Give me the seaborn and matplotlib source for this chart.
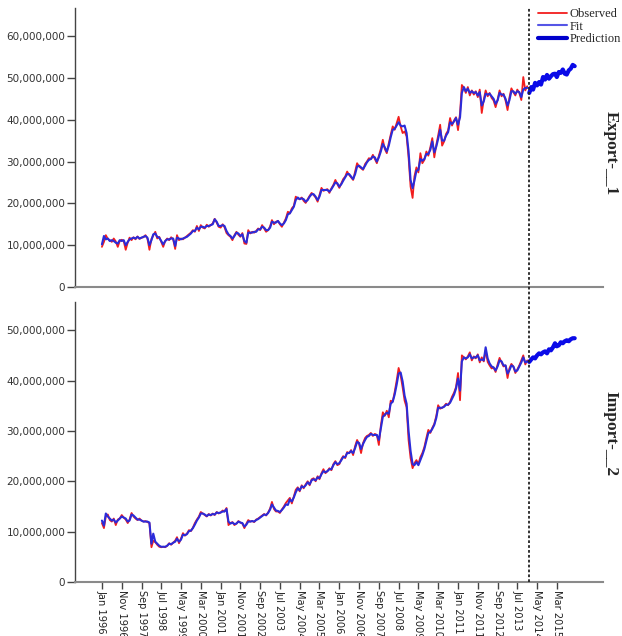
import numpy as np
import pandas as pd
import matplotlib
matplotlib.use("Agg")
import matplotlib.pyplot as plt
import matplotlib.ticker as mticker
import matplotlib.dates as mdates
from matplotlib.lines import Line2D
import seaborn as sns

# Monthly series, values in millions
months = pd.date_range("1996-01-01", periods=216, freq="MS")
forecast_months = pd.date_range("2014-01-01", periods=24, freq="MS")
tick_months = pd.date_range("1996-01-01", "2015-03-01", freq="10MS")

export_observed = [
    9.6, 10.8, 12.4, 11.5, 11.2, 10.8, 11.6, 10.9, 9.6, 11.0, 11.3, 11.0,
    8.9, 10.6, 11.8, 11.2, 11.9, 11.4, 12.1, 11.5, 11.8, 11.9, 12.4, 11.6,
    8.9, 11.5, 12.3, 13.2, 11.6, 12.0, 10.8, 9.6, 11.0, 11.6, 11.2, 11.9,
    11.4, 9.1, 12.4, 11.2, 11.6, 11.4, 11.8, 12.2, 12.6, 13.0, 13.6, 13.2,
    14.6, 13.4, 14.8, 14.2, 14.0, 14.9, 14.4, 14.8, 15.2, 16.3, 15.4, 14.4,
    14.2, 15.0, 14.3, 12.9, 12.4, 12.0, 11.2, 12.4, 13.2, 12.5, 12.0, 12.9,
    10.4, 10.3, 13.6, 12.8, 13.2, 13.0, 13.4, 14.0, 13.6, 14.8, 14.0, 13.2,
    13.6, 14.5, 16.0, 15.0, 15.6, 15.8, 15.0, 14.4, 15.4, 16.4, 18.0, 17.6,
    18.8, 19.4, 21.6, 21.2, 21.0, 21.4, 20.6, 20.1, 21.0, 21.8, 22.5, 22.0,
    21.4, 20.4, 22.0, 23.7, 23.0, 23.2, 23.4, 22.5, 23.6, 24.4, 25.6, 24.6,
    23.7, 24.8, 25.8, 26.4, 27.6, 26.8, 26.2, 25.6, 27.6, 29.6, 28.8, 28.4,
    28.0, 29.4, 30.0, 30.8, 30.6, 31.6, 30.6, 29.6, 31.4, 33.0, 35.2, 33.0,
    32.0, 34.4, 36.4, 38.4, 37.6, 39.2, 40.7, 38.4, 36.8, 37.2, 36.0, 31.0,
    24.0, 21.3, 26.4, 28.6, 27.4, 32.0, 29.6, 30.4, 32.4, 31.4, 33.4, 35.6,
    31.0, 34.0, 36.2, 38.8, 33.8, 34.8, 36.6, 37.4, 40.4, 38.6, 39.8, 40.6,
    37.5, 41.6, 48.3, 47.6, 46.4, 47.8, 45.8, 47.0, 46.0, 46.8, 45.4, 47.2,
    41.6, 44.8, 47.0, 45.6, 46.4, 45.2, 44.6, 43.0, 44.8, 47.0, 45.6, 46.2,
    44.6, 42.3, 45.2, 47.5, 46.6, 45.8, 47.2, 46.4, 44.7, 50.2, 47.0, 48.0,
]
export_fit = [
    10.2, 12.2, 11.4, 11.6, 11.0, 11.2, 11.0, 10.6, 10.4, 11.2, 11.0, 11.2,
    10.0, 10.8, 11.4, 11.6, 11.8, 11.6, 12.0, 11.6, 11.8, 12.0, 12.2, 11.8,
    10.0, 11.2, 12.6, 12.8, 12.0, 11.8, 11.0, 10.2, 11.0, 11.4, 11.4, 11.6,
    11.6, 9.8, 11.8, 11.6, 11.4, 11.6, 11.8, 12.0, 12.4, 12.8, 13.4, 13.4,
    14.2, 13.8, 14.4, 14.4, 14.2, 14.6, 14.6, 14.8, 15.0, 16.2, 15.6, 14.6,
    14.6, 14.8, 14.6, 13.4, 12.6, 12.2, 11.6, 12.2, 13.0, 12.8, 12.2, 12.6,
    11.0, 10.6, 13.0, 13.0, 13.0, 13.2, 13.2, 13.8, 13.8, 14.4, 14.2, 13.6,
    13.6, 14.2, 15.6, 15.4, 15.4, 15.8, 15.2, 14.8, 15.2, 16.0, 17.4, 17.6,
    18.4, 19.2, 20.8, 21.4, 21.0, 21.2, 21.0, 20.4, 20.8, 21.6, 22.2, 22.2,
    21.6, 20.8, 21.6, 23.2, 23.2, 23.2, 23.2, 22.8, 23.4, 24.2, 25.0, 24.8,
    24.0, 24.6, 25.4, 26.2, 27.0, 27.0, 26.4, 25.8, 27.0, 28.8, 29.0, 28.6,
    28.2, 29.0, 29.8, 30.4, 30.6, 31.2, 31.0, 30.0, 31.0, 32.4, 34.2, 33.4,
    32.4, 33.8, 35.8, 37.6, 37.8, 38.6, 39.4, 38.6, 38.4, 38.6, 36.8, 32.4,
    25.6, 23.6, 25.4, 27.8, 28.0, 30.6, 30.2, 30.6, 31.8, 31.8, 32.8, 34.8,
    32.2, 33.6, 35.4, 37.6, 35.0, 35.0, 36.2, 37.0, 39.4, 39.0, 39.6, 40.4,
    38.8, 40.6, 46.4, 47.8, 46.8, 47.4, 46.4, 46.8, 46.4, 46.6, 45.8, 46.6,
    43.4, 44.4, 46.2, 46.0, 46.2, 45.6, 45.0, 43.8, 44.6, 46.4, 46.0, 46.0,
    45.0, 43.4, 44.6, 46.8, 46.8, 46.2, 46.8, 46.6, 45.4, 47.2, 47.6, 47.6,
]
export_prediction = [
    46.4, 47.8, 47.2, 48.8, 48.2, 49.0, 48.4, 50.2, 49.6, 50.7, 49.8, 50.4,
    50.9, 51.0, 50.2, 51.4, 51.2, 52.0, 51.0, 50.8, 51.8, 52.2, 53.1, 52.8,
]

import_observed = [
    11.7, 10.7, 13.0, 13.4, 12.3, 12.0, 12.6, 11.3, 12.4, 12.6, 13.3, 12.8,
    12.4, 11.7, 12.4, 13.7, 13.0, 12.6, 12.3, 12.6, 12.2, 12.0, 12.1, 11.9,
    11.7, 6.9, 8.2, 7.9, 7.4, 7.0, 6.9, 7.0, 6.9, 7.2, 7.7, 7.4,
    7.8, 8.2, 8.9, 7.7, 8.6, 9.7, 9.2, 9.6, 10.3, 10.1, 10.8, 11.7,
    12.4, 13.0, 13.9, 13.6, 13.3, 13.0, 13.5, 13.2, 13.6, 13.3, 13.9, 13.6,
    13.8, 14.2, 14.0, 14.7, 11.3, 11.7, 11.9, 11.3, 11.6, 12.1, 11.8, 11.6,
    10.7, 11.6, 12.3, 12.0, 12.1, 11.9, 12.4, 12.6, 12.9, 13.2, 13.5, 13.2,
    13.8, 14.6, 15.9, 14.5, 14.0, 14.0, 13.7, 14.4, 15.0, 15.7, 16.2, 16.7,
    15.6, 17.0, 18.3, 18.8, 18.0, 19.2, 18.6, 19.4, 20.0, 19.2, 20.4, 20.6,
    20.0, 21.0, 20.4, 21.6, 22.4, 21.6, 22.0, 22.6, 22.2, 23.4, 24.0, 23.2,
    23.4, 24.4, 25.0, 24.6, 25.8, 25.6, 26.2, 25.2, 27.0, 28.2, 27.4, 25.6,
    27.6, 28.6, 29.0, 29.2, 29.6, 29.0, 29.4, 29.2, 27.2, 31.0, 33.7, 33.0,
    34.0, 32.7, 36.0, 35.8, 37.7, 40.0, 42.5, 41.0, 38.6, 36.0, 34.7, 28.2,
    24.6, 22.6, 23.6, 24.2, 23.4, 24.8, 25.6, 26.8, 28.6, 30.2, 29.6, 30.6,
    31.4, 33.0, 35.1, 34.4, 34.6, 34.9, 35.4, 35.1, 35.8, 36.8, 37.6, 38.7,
    41.5, 36.1, 45.0, 44.6, 44.2, 44.8, 45.6, 44.0, 44.8, 44.4, 45.2, 43.6,
    44.6, 43.8, 46.0, 43.7, 43.0, 42.4, 42.6, 41.7, 43.2, 44.5, 43.6, 42.8,
    43.0, 40.5, 42.4, 43.3, 42.8, 41.5, 42.2, 43.0, 44.0, 45.0, 43.2, 44.0,
]
import_fit = [
    12.2, 11.2, 13.6, 13.0, 12.6, 12.2, 12.4, 11.8, 12.2, 12.6, 13.0, 12.8,
    12.6, 12.0, 12.2, 13.4, 13.2, 12.8, 12.4, 12.4, 12.2, 12.0, 12.0, 12.0,
    11.8, 7.6, 9.6, 8.0, 7.6, 7.2, 7.0, 7.0, 7.0, 7.2, 7.6, 7.5,
    7.8, 8.0, 8.6, 8.0, 8.4, 9.4, 9.3, 9.5, 10.1, 10.2, 10.7, 11.4,
    12.2, 12.8, 13.6, 13.6, 13.4, 13.1, 13.4, 13.3, 13.5, 13.4, 13.8, 13.7,
    13.8, 14.0, 14.0, 14.5, 12.0, 11.6, 11.8, 11.5, 11.6, 12.0, 11.8, 11.7,
    11.0, 11.4, 12.0, 12.0, 12.1, 12.0, 12.3, 12.5, 12.8, 13.1, 13.4, 13.3,
    13.7, 14.4, 15.4, 14.8, 14.2, 14.1, 13.9, 14.3, 14.8, 15.4, 15.3, 16.4,
    16.0, 16.8, 17.8, 18.6, 18.2, 19.0, 18.8, 19.2, 19.8, 19.4, 20.2, 20.4,
    20.2, 20.8, 20.6, 21.4, 22.0, 21.8, 22.0, 22.4, 22.4, 23.2, 23.8, 23.4,
    23.6, 24.2, 24.8, 24.8, 25.6, 25.6, 26.0, 25.6, 26.6, 27.8, 27.6, 26.4,
    27.4, 28.2, 28.8, 29.0, 29.4, 29.2, 29.2, 29.2, 28.2, 30.4, 32.8, 33.2,
    33.6, 33.4, 35.4, 35.8, 37.2, 39.2, 41.4, 41.6, 39.8, 37.0, 35.4, 30.0,
    26.0, 23.4, 23.2, 23.8, 23.2, 24.2, 25.2, 26.4, 28.0, 29.6, 29.8, 30.4,
    31.2, 32.6, 34.6, 34.6, 34.6, 34.8, 35.2, 35.2, 35.6, 36.4, 37.2, 38.4,
    40.4, 38.0, 43.8, 44.6, 44.4, 44.6, 45.2, 44.4, 44.6, 44.6, 45.0, 44.0,
    44.2, 44.0, 46.6, 44.4, 43.4, 42.8, 42.6, 42.0, 42.8, 44.0, 43.8, 43.0,
    43.0, 41.4, 42.0, 43.0, 42.8, 41.8, 42.0, 42.8, 43.6, 44.6, 43.6, 43.8,
]
import_prediction = [
    43.7, 44.2, 44.6, 44.4, 45.0, 45.4, 45.2, 45.6, 45.8, 45.4, 46.2, 46.0,
    46.6, 47.4, 46.8, 47.0, 47.6, 47.4, 47.8, 48.0, 47.8, 48.2, 48.4, 48.4,
]

panel_names = ["Export-__1", "Import-__2"]

OBS_COLOR = "#f21d1d"
FIT_COLOR = "#2b2bd9"
PRED_COLOR = "#0a0ae8"

sns.set_theme(style="white")
plt.rcParams["font.family"] = ["DejaVu Sans"]

fig = plt.figure(figsize=(6.22, 6.36), dpi=100)
ax_top = fig.add_axes([0.1206, 0.5487, 0.849, 0.4387])
ax_bot = fig.add_axes([0.1206, 0.0849, 0.849, 0.4403])

M = 1e6
x_left = mdates.date2num(pd.Timestamp("1994-11-13"))
x_right = mdates.date2num(pd.Timestamp("2017-02-10"))

panels = [
    (ax_top, export_observed, export_fit, export_prediction, 66.7, 60),
    (ax_bot, import_observed, import_fit, import_prediction, 55.6, 50),
]

for ax, obs, fit, pred, ytop, ymax_tick in panels:
    sns.lineplot(x=months, y=np.array(obs) * M, ax=ax, color=OBS_COLOR, lw=1.3)
    sns.lineplot(x=months, y=np.array(fit) * M, ax=ax, color=FIT_COLOR, lw=1.5)
    sns.lineplot(x=forecast_months, y=np.array(pred) * M, ax=ax,
                 color=PRED_COLOR, lw=3.0)
    ax.set_xlim(x_left, x_right)
    ax.set_ylim(0, ytop * M)
    ax.set_yticks(np.arange(0, ymax_tick + 1, 10) * M)
    ax.yaxis.set_major_formatter(
        mticker.FuncFormatter(lambda v, p: f"{int(round(v)):,}"))
    ax.set_xlabel("")
    ax.set_ylabel("")
    for side in ("top", "right"):
        ax.spines[side].set_visible(False)
    ax.spines["left"].set_color("#444444")
    ax.spines["left"].set_linewidth(1.0)
    ax.spines["bottom"].set_color("#8a8a8a")
    ax.spines["bottom"].set_linewidth(1.5)
    ax.tick_params(axis="y", which="major", left=True, length=6, width=1,
                   color="#444444", labelsize=7.5, labelcolor="#333333", pad=1)
    ax.grid(False)

ax_top.set_xticks([])
ax_bot.set_xticks(mdates.date2num(tick_months))
ax_bot.set_xticklabels([d.strftime("%b %Y") for d in tick_months],
                       rotation=-90, fontsize=7.1, color="#222222",
                       va="top", ha="center")
ax_bot.tick_params(axis="x", bottom=True, length=5, width=1,
                   color="#444444", pad=0.5)

# Forecast origin marker spanning both panels
fig.canvas.draw()
x_origin = mdates.date2num(pd.Timestamp("2014-01-01"))
xf = fig.transFigure.inverted().transform(
    ax_top.transData.transform((x_origin, 0)))[0]
fig.add_artist(Line2D([xf, xf], [0.0849, 0.9874], transform=fig.transFigure,
                      color="#222222", lw=1.3, linestyle=(0, (1.5, 1.2))))

# Panel names on the right
fig.text(0.982, 0.759, panel_names[0], rotation=-90, ha="center", va="center",
         family="Liberation Serif", fontweight="bold", fontsize=12.5)
fig.text(0.982, 0.319, panel_names[1], rotation=-90, ha="center", va="center",
         family="Liberation Serif", fontweight="bold", fontsize=12.5)

handles = [
    Line2D([], [], color=OBS_COLOR, lw=1.3),
    Line2D([], [], color="#5555e6", lw=1.5),
    Line2D([], [], color="#0000cc", lw=3.0),
]
fig.legend(handles, ["Observed", "Fit", "Prediction"], loc="upper left",
           bbox_to_anchor=(538 / 622, 1 - 8 / 636), bbox_transform=fig.transFigure,
           frameon=False, borderpad=0, borderaxespad=0, handlelength=2.3,
           handletextpad=0.2, labelspacing=0.05,
           prop={"family": "Liberation Serif", "size": 9})

fig.savefig("out.png", dpi=100)
